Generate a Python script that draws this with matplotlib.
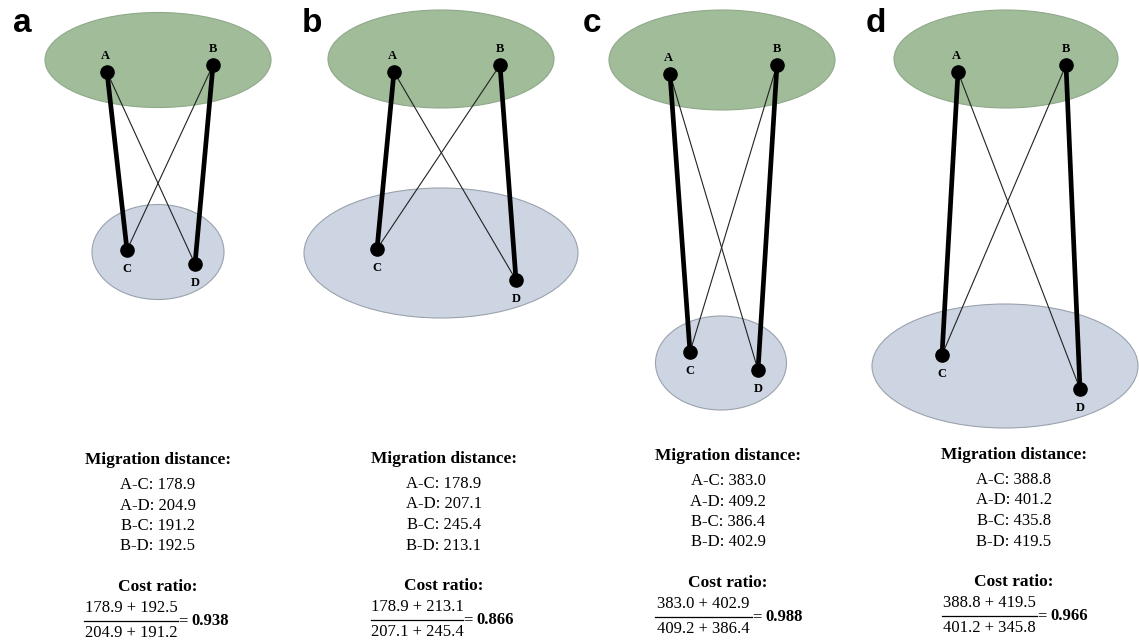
import matplotlib.pyplot as plt
import matplotlib.patches as mpatches

# panel letters
panels = ['a', 'b', 'c', 'd']
letter_x = [22, 312, 592, 876]

# node positions (pixel coordinates of the original drawing), order A, B, C, D
node_x = [[107, 213, 127, 195],
          [394, 500, 377, 516],
          [670, 777, 690, 758],
          [958, 1066, 942, 1080]]
node_y = [[72, 65, 250, 264],
          [72, 65, 249, 280],
          [74, 65, 352, 370],
          [72, 65, 355, 389]]
node_names = ['A', 'B', 'C', 'D']

# source (green) and target (blue) regions: center x, center y, width, height
top_region = [(158, 60, 226, 95), (441, 59, 226, 98),
              (722, 60, 226, 100), (1006, 59, 224, 98)]
bottom_region = [(158, 252, 132, 95), (441, 253, 274, 130),
                 (721, 363, 131, 94), (1005, 366, 266, 124)]

# migration distances
dist_ac = ['178.9', '178.9', '383.0', '388.8']
dist_ad = ['204.9', '207.1', '409.2', '401.2']
dist_bc = ['191.2', '245.4', '386.4', '435.8']
dist_bd = ['192.5', '213.1', '402.9', '419.5']
numerators = ['178.9 + 192.5', '178.9 + 213.1', '383.0 + 402.9', '388.8 + 419.5']
denominators = ['204.9 + 191.2', '207.1 + 245.4', '409.2 + 386.4', '401.2 + 345.8']
ratios = ['0.938', '0.866', '0.988', '0.966']

# text block layout
text_cx = [158, 444, 728, 1014]
text_top = [460, 459, 456, 455]
frac_left = [84, 371, 655, 942]
frac_right = [178, 463, 752, 1037]

GREEN = '#a0bc99'
BLUE = '#cdd5e2'
SERIF = 'Liberation Serif'


def main():
    fig = plt.figure(figsize=(11.39, 6.41), dpi=100)
    ax = fig.add_axes([0, 0, 1, 1])
    ax.set_xlim(0, 1139)
    ax.set_ylim(641, 0)
    ax.axis('off')

    for i, p in enumerate(panels):
        ax.text(letter_x[i], 24, p, fontsize=24, fontweight='bold',
                family='Liberation Sans', ha='center', va='center')

        cx, cy, w, h = top_region[i]
        ax.add_patch(mpatches.Ellipse((cx, cy), w, h, facecolor=GREEN,
                                      edgecolor='#8fa88a', lw=0.8, zorder=1))
        cx, cy, w, h = bottom_region[i]
        ax.add_patch(mpatches.Ellipse((cx, cy), w, h, facecolor=BLUE,
                                      edgecolor='#9aa2ad', lw=0.8, zorder=1))

        xs, ys = node_x[i], node_y[i]
        # thin cross links A-D, B-C
        ax.plot([xs[0], xs[3]], [ys[0], ys[3]], color='#222222', lw=0.8, zorder=2)
        ax.plot([xs[1], xs[2]], [ys[1], ys[2]], color='#222222', lw=0.8, zorder=2)
        # thick direct links A-C, B-D
        ax.plot([xs[0], xs[2]], [ys[0], ys[2]], color='black', lw=3.4, zorder=3)
        ax.plot([xs[1], xs[3]], [ys[1], ys[3]], color='black', lw=3.4, zorder=3)
        ax.plot(xs, ys, 'o', color='black', ms=9.5, zorder=4)

        for k, name in enumerate(node_names):
            dy = -16 if k < 2 else 19
            dx = -2 if k == 0 else 0
            ax.text(xs[k] + dx, ys[k] + dy, name, fontsize=9, fontweight='bold',
                    family=SERIF, ha='center', va='center', zorder=5)

        # distances text
        t0 = text_top[i]
        ax.text(text_cx[i], t0, 'Migration distance:', fontsize=12.5,
                fontweight='bold', family=SERIF, ha='center', va='center')
        rows = ['A-C: ' + dist_ac[i], 'A-D: ' + dist_ad[i],
                'B-C: ' + dist_bc[i], 'B-D: ' + dist_bd[i]]
        for r, row in enumerate(rows):
            ax.text(text_cx[i], t0 + 25 + 20.5 * r, row, fontsize=12,
                    family=SERIF, ha='center', va='center')

        ax.text(text_cx[i], t0 + 127, 'Cost ratio:', fontsize=12.5,
                fontweight='bold', family=SERIF, ha='center', va='center')
        fmid = (frac_left[i] + frac_right[i]) / 2
        ax.text(fmid, t0 + 148, numerators[i], fontsize=12, family=SERIF,
                ha='center', va='center')
        ax.plot([frac_left[i], frac_right[i]], [t0 + 161, t0 + 161],
                color='black', lw=0.9)
        ax.text(fmid, t0 + 173, denominators[i], fontsize=12, family=SERIF,
                ha='center', va='center')
        ax.text(frac_right[i], t0 + 161, '=', fontsize=12, family=SERIF,
                ha='left', va='center')
        ax.text(frac_right[i] + 13, t0 + 161, ratios[i], fontsize=12,
                fontweight='bold', family=SERIF, ha='left', va='center')

    fig.savefig('out.png', dpi=100)


if __name__ == "__main__":
    main()
